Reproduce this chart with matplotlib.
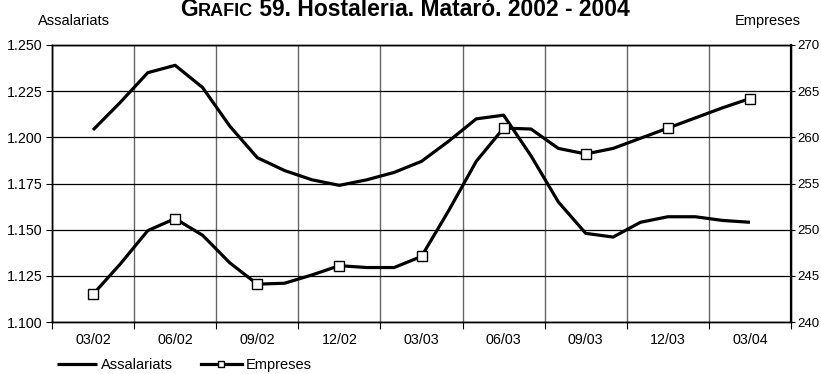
import matplotlib.pyplot as plt
import numpy as np

plt.rcParams['font.family'] = ['Liberation Sans', 'DejaVu Sans']

# monthly values, 03/2002 - 03/2004
assalariats = [1204, 1219, 1235, 1239, 1227, 1206, 1189, 1182, 1177, 1174, 1177, 1181, 1187,
               1198, 1210, 1212, 1190, 1165, 1148, 1146, 1154, 1157, 1157, 1155, 1154]
empreses = [243, 246.3, 249.9, 251.2, 249.4, 246.4, 244.1, 244.2, 245.1, 246.1, 245.9, 245.9, 247.1,
            252.1, 257.4, 261, 260.9, 258.8, 258.2, 258.8, 259.9, 261, 262.1, 263.2, 264.2]
quarter_labels = ['03/02', '06/02', '09/02', '12/02', '03/03', '06/03', '09/03', '12/03', '03/04']

x = np.arange(len(assalariats))

fig = plt.figure(figsize=(8.21, 3.74), dpi=100)
ax = fig.add_axes([0.0633, 0.139, 0.9002, 0.7407])
ax2 = ax.twinx()

# Assalariats on the left axis, Empreses on the right axis
l1, = ax.plot(x, assalariats, color='black', lw=2.3, solid_joinstyle='round', solid_capstyle='butt')
l2, = ax2.plot(x, empreses, color='black', lw=2.3, solid_joinstyle='round',
               marker='s', markevery=3, markersize=6.5, markerfacecolor='white',
               markeredgecolor='black', markeredgewidth=1.0)

ax.set_xlim(-1.5, len(x) - 0.5 + 1)
ax.set_ylim(1100, 1250)
ax2.set_ylim(240, 270)

# category boundaries carry ticks + vertical grid, labels sit in the middle
bounds = np.arange(-1.5, len(x) + 1, 3)
ax.set_xticks(bounds, labels=[''] * len(bounds))
ax.set_xticks(np.arange(0, len(x), 3), labels=quarter_labels, minor=True)
ax.tick_params(axis='x', which='major', length=5, width=0.8, direction='out')
ax.tick_params(axis='x', which='minor', length=0, labelsize=10.3, pad=8)
ax.xaxis.grid(True, which='major', color='#666666', lw=1.0)

ax.set_yticks(np.arange(1100, 1251, 25))
ax.set_yticklabels([f'{v:,}'.replace(',', '.') for v in range(1100, 1251, 25)])
ax.tick_params(axis='y', length=4, width=0.8, labelsize=10.3, pad=3)
ax.yaxis.grid(True, color='black', lw=0.9)
ax.set_axisbelow(True)

ax2.set_yticks(np.arange(240, 271, 5))
ax2.tick_params(axis='y', length=3, width=0.8, labelsize=9.6, pad=1.5)

for a in (ax, ax2):
    for s in a.spines.values():
        s.set_color('black')
        s.set_linewidth(1.0)
ax2.spines['right'].set_linewidth(1.6)

fig.text(0.046, 1 - 25 / 374, 'Assalariats', fontsize=10.5, ha='left', va='baseline')
fig.text(0.975, 1 - 25 / 374, 'Empreses', fontsize=10.5, ha='right', va='baseline')

# title with small caps on "GRAFIC"
ty = 1 - 16.5 / 374
t1 = fig.text(0.219, ty, 'G', fontsize=16.5, fontweight='bold', va='baseline')
t2 = fig.text(0, 0, 'RAFIC', fontsize=13, fontweight='bold', va='baseline')
t3 = fig.text(0, 0, ' 59. Hostaleria. Mataró. 2002 - 2004', fontsize=16.5, fontweight='bold', va='baseline')
fig.canvas.draw()
r = fig.canvas.get_renderer()
bb1 = t1.get_window_extent(r)
t2.set_position((bb1.x1 / fig.bbox.width, ty))
fig.canvas.draw()
bb2 = t2.get_window_extent(r)
t3.set_position((bb2.x1 / fig.bbox.width, ty))

fig.legend([l1, l2], ['Assalariats', 'Empreses'], loc='center left', bbox_to_anchor=(0.069, 1 - 365 / 374),
           ncol=2, frameon=False, fontsize=10.5, handlelength=2.8, handletextpad=0.25,
           columnspacing=1.9, numpoints=1, markerscale=0.75, borderpad=0, borderaxespad=0)

fig.savefig('out.png', dpi=100)
